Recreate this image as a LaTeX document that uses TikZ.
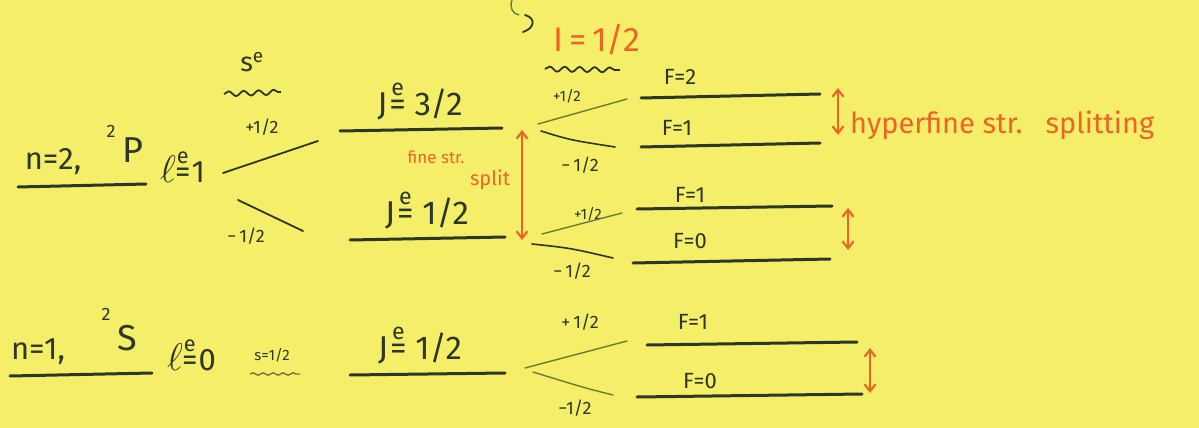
\documentclass[tikz,border=0pt]{standalone}
\usepackage{amsmath}
\usepackage{graphicx}
\usepackage{fontspec}
\setmainfont{Fira Sans}
\usetikzlibrary{arrows.meta,decorations.pathmorphing}
\definecolor{paper}{RGB}{245,238,105}
\definecolor{ink}{RGB}{45,55,40}
\definecolor{inklight}{RGB}{105,125,55}
\definecolor{orng}{RGB}{238,100,40}
\newcommand\eeq{\ensuremath{\overset{\text{e}}{\text{=}}}}
\newcommand\bigell{\scalebox{1.55}{$\ell$}}
\begin{document}
\begin{tikzpicture}[x=1pt,y=-1pt,
  level/.style={draw=ink,line width=3pt,line cap=round},
  splitline/.style={draw=inklight,line width=1.4pt,line cap=round},
  big/.style={text=ink,font=\fontsize{31}{33}\selectfont,inner sep=0pt},
  mid/.style={text=ink,font=\fontsize{22}{24}\selectfont,inner sep=0pt},
  small/.style={text=ink,font=\fontsize{18}{20}\selectfont,inner sep=0pt},
  tiny/.style={text=ink,font=\fontsize{15}{17}\selectfont,inner sep=0pt},
  otext/.style={text=orng,inner sep=0pt},
  oarrow/.style={draw=orng,line width=2.2pt,{Straight Barb[length=7pt,width=11pt]}-{Straight Barb[length=7pt,width=11pt]}},
  wavy/.style={draw=ink,line width=1.8pt,decorate,decoration={snake,segment length=15pt,amplitude=2.5pt}}
]
\fill[paper] (0,0) rectangle (1199,428);
\useasboundingbox (0,0) rectangle (1199,428);

% ---------- n=2 ----------
\coordinate (n2a) at (18,187); \coordinate (n2b) at (146,184);
\draw[level] (n2a) -- (n2b);
\node[big] (n2) at (53,162) {n=2,};
\node[big,font=\fontsize{36}{38}\selectfont] (P) at (133,150) {P};
\node[small] (P2) at (111,131) {2};
\node[big,anchor=west] (l1) at (160,166) {\bigell\kern-1pt\eeq\kern1pt1};

% electron spin
\node[mid,font=\fontsize{27}{29}\selectfont] (se) at (252,62) {s\textsuperscript{e}};
\coordinate (sw1) at (224,94); \coordinate (sw2) at (281,92);
\draw[wavy] (sw1) -- (sw2);
\node[small] (sp) at (262,127) {+1/2};
\node[small] (sm) at (246,236) {\textminus\,1/2};
\coordinate (pa) at (223,173); \coordinate (pb) at (318,141);
\coordinate (ma) at (238,200); \coordinate (mb) at (303,231);
\draw[ink,line width=1.8pt,line cap=round] (pa) -- (pb);
\draw[ink,line width=1.8pt,line cap=round] (ma) -- (mb);

% fine structure
\coordinate (j3a) at (340,131); \coordinate (j3b) at (502,128);
\draw[level] (j3a) -- (j3b);
\node[big,font=\fontsize{33}{35}\selectfont] (j3) at (420,100) {J\kern2pt\eeq\ 3/2};
\coordinate (j1a) at (350,240); \coordinate (j1b) at (505,237);
\draw[level] (j1a) -- (j1b);
\node[big,font=\fontsize{33}{35}\selectfont] (j1) at (427,209) {J\kern2pt\eeq\ 1/2};
\coordinate (fa) at (522,130); \coordinate (fb) at (522,240);
\draw[oarrow] (fa) -- (fb);
\node[otext,font=\fontsize{17}{19}\selectfont] (fine) at (436,157) {fine str.};
\node[otext,font=\fontsize{20}{22}\selectfont] (split) at (490,180) {split};

% hook at top
\coordinate (h0) at (512,0); \coordinate (h1) at (519,15);
\draw[inklight,line width=1.4pt] (h0) .. controls (509,8) and (513,14) .. (h1);
\coordinate (h2) at (525,15); \coordinate (h3) at (523,32);
\draw[ink,line width=1.8pt,line cap=round] (h2) .. controls (536,18) and (535,28) .. (h3);

% nuclear spin
\node[otext,font=\fontsize{34}{36}\selectfont] (I) at (597,40) {I\,=\,1/2};
\coordinate (iw1) at (545,69); \coordinate (iw2) at (620,70);
\draw[wavy] (iw1) -- (iw2);

% upper hyperfine (J=3/2)
\node[tiny] (u3p) at (567,96) {+1/2};
\node[small] (u3m) at (580,165) {\textminus\,1/2};
\coordinate (u3pa) at (538,124); \coordinate (u3pb) at (627,99);
\coordinate (u3ma) at (541,131); \coordinate (u3mb) at (615,147);
\draw[splitline] (u3pa) -- (u3pb);
\draw[ink,line width=1.6pt,line cap=round] (u3ma) .. controls (570,140) .. (u3mb);
\node[mid] (F2) at (680,77) {F=2};
\coordinate (f2a) at (641,98); \coordinate (f2b) at (820,94);
\draw[level] (f2a) -- (f2b);
\node[mid] (F1u) at (677,128) {F=1};
\coordinate (f1a) at (641,147); \coordinate (f1b) at (820,143);
\draw[level] (f1a) -- (f1b);
\coordinate (ha) at (838,88); \coordinate (hb) at (838,135);
\draw[oarrow] (ha) -- (hb);
\node[otext,anchor=west,font=\fontsize{29}{31}\selectfont] (hyp) at (850,125) {hyperfine\ str.\ \ \ splitting};

% upper hyperfine (J=1/2)
\node[tiny] (u1p) at (588,214) {+1/2};
\node[small] (u1m) at (572,271) {\textminus\,1/2};
\coordinate (u1pa) at (542,234); \coordinate (u1pb) at (622,213);
\coordinate (u1ma) at (532,244); \coordinate (u1mb) at (613,258);
\draw[splitline] (u1pa) -- (u1pb);
\draw[ink,line width=1.6pt,line cap=round] (u1ma) .. controls (570,248) .. (u1mb);
\node[mid] (F1m) at (690,195) {F=1};
\coordinate (f1ma) at (637,209); \coordinate (f1mb) at (832,206);
\draw[level] (f1ma) -- (f1mb);
\node[mid] (F0m) at (690,241) {F=0};
\coordinate (f0ma) at (633,263); \coordinate (f0mb) at (830,259);
\draw[level] (f0ma) -- (f0mb);
\coordinate (ma1) at (848,208); \coordinate (ma2) at (848,250);
\draw[oarrow] (ma1) -- (ma2);

% ---------- n=1 ----------
\coordinate (n1a) at (10,376); \coordinate (n1b) at (152,373);
\draw[level] (n1a) -- (n1b);
\node[big] (n1) at (38,352) {n=1,};
\node[big,font=\fontsize{36}{38}\selectfont] (S) at (127,338) {S};
\node[small] (S2) at (106,314) {2};
\node[big,anchor=west] (l0) at (167,354) {\bigell\kern-1pt\eeq\kern1pt0};
\node[tiny] (s12) at (272,355) {s=1/2};
\coordinate (sw3) at (250,374); \coordinate (sw4) at (300,374);
\draw[inklight,line width=1.4pt,decorate,decoration={snake,segment length=10pt,amplitude=1.2pt}] (sw3) -- (sw4);
\node[big,font=\fontsize{33}{35}\selectfont] (j0) at (420,344) {J\kern2pt\eeq\ 1/2};
\coordinate (j0a) at (350,375); \coordinate (j0b) at (505,373);
\draw[level] (j0a) -- (j0b);

% ground hyperfine
\node[small] (gp) at (580,322) {+\,1/2};
\node[small] (gm) at (575,408) {\textminus1/2};
\coordinate (gpa) at (525,368); \coordinate (gpb) at (627,341);
\coordinate (gma) at (533,372); \coordinate (gmb) at (613,395);
\draw[splitline] (gpa) -- (gpb);
\draw[splitline] (gma) .. controls (585,388) .. (gmb);
\node[mid] (F1g) at (693,322) {F=1};
\coordinate (f1ga) at (647,345); \coordinate (f1gb) at (857,342);
\draw[level] (f1ga) -- (f1gb);
\node[mid] (F0g) at (700,381) {F=0};
\coordinate (f0ga) at (637,397); \coordinate (f0gb) at (862,394);
\draw[level] (f0ga) -- (f0gb);
\coordinate (ga1) at (870,348); \coordinate (ga2) at (870,393);
\draw[oarrow] (ga1) -- (ga2);
\end{tikzpicture}
\end{document}
